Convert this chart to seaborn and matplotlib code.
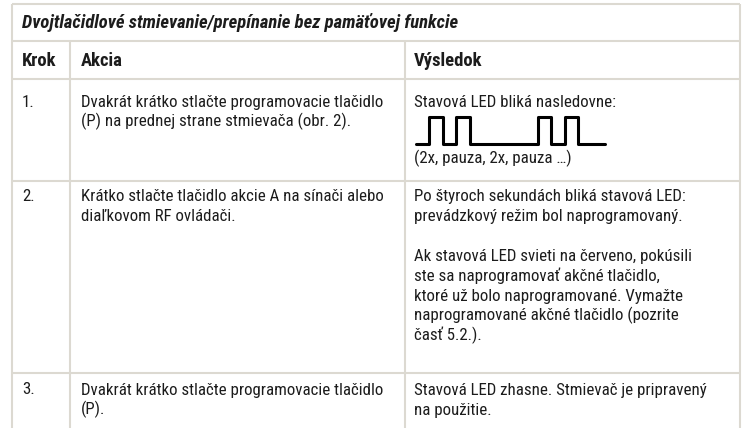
import matplotlib
matplotlib.use("Agg")
import matplotlib.pyplot as plt
import pandas as pd
import seaborn as sns

# -------------------- Table content -------------------- #
title = "Dvojtlačidlové stmievanie/prepínanie bez pamäťovej funkcie"
headers = ["Krok", "Akcia", "Výsledok"]

steps = ["1.", "2.", "3."]
actions = [
    ["Dvakrát krátko stlačte programovacie tlačidlo",
     "(P) na prednej strane stmievača (obr. 2)."],
    ["Krátko stlačte tlačidlo akcie A na sínači alebo",
     "diaľkovom RF ovládači."],
    ["Dvakrát krátko stlačte programovacie tlačidlo",
     "(P)."],
]
results = [
    ["Stavová LED bliká nasledovne:"],
    ["Po štyroch sekundách bliká stavová LED:",
     "prevádzkový režim bol naprogramovaný.",
     "",
     "Ak stavová LED svieti na červeno, pokúsili",
     "ste sa naprogramovať akčné tlačidlo,",
     "ktoré už bolo naprogramované. Vymažte",
     "naprogramované akčné tlačidlo (pozrite",
     "časť 5.2.)."],
    ["Stavová LED zhasne. Stmievač je pripravený",
     "na použitie."],
]
blink_caption = "(2x, pauza, 2x, pauza …)"

# LED blink pattern: level in each time slot (2x, pause, 2x)
blink_levels = [0, 1, 0, 1, 0, 0, 0, 0, 0, 1, 0, 1, 0, 0]

# -------------------- Layout (pixels) -------------------- #
W, H = 745, 428
left, right, top = 12, 740, 4
col_x = [12, 70, 405, 740]
row_y = [4, 41, 79, 181, 373, 428]
text_x = [22, 81, 414]
line_h = 20
first_line = [101, 195, 389]
line_color = "#dcd9d1"
text_color = "#1c1c1c"

sns.set_theme(style="white")
plt.rcParams["font.family"] = ["Roboto Condensed", "DejaVu Sans"]

fig = plt.figure(figsize=(W / 100, H / 100), dpi=100)
ax = fig.add_axes([0, 0, 1, 1])
ax.set_xlim(0, W)
ax.set_ylim(H, 0)
ax.axis("off")

lw = 1.5
# outer verticals
ax.vlines([left, right], top, H, color=line_color, lw=lw)
ax.hlines(top, left, right, color=line_color, lw=lw)
# row separators
ax.hlines(row_y[1:5], left, right, color=line_color, lw=lw)
# column separators (below title)
ax.vlines(col_x[1:3], row_y[1], H, color=line_color, lw=lw)

fs = 12.2
fs_bold = 13.4
base_off = 5.5

ax.text(text_x[0], 22 + base_off, title, fontsize=fs_bold, fontweight="bold",
        fontstyle="italic", color=text_color, va="baseline")
for x, h in zip(text_x, headers):
    ax.text(x, 60 + base_off, h, fontsize=fs_bold, fontweight="bold",
            color=text_color, va="baseline")

for i, (k, act, res) in enumerate(zip(steps, actions, results)):
    y0 = first_line[i] + base_off
    ax.text(text_x[0], y0, k, fontsize=fs, color=text_color, va="baseline")
    for j, line in enumerate(act):
        ax.text(text_x[1], y0 + j * line_h, line, fontsize=fs,
                color=text_color, va="baseline")
    for j, line in enumerate(res):
        ax.text(text_x[2], y0 + j * line_h, line, fontsize=fs,
                color=text_color, va="baseline")

ax.text(text_x[2], 158 + base_off, blink_caption, fontsize=fs,
        color=text_color, va="baseline")

# -------------------- LED blink waveform -------------------- #
wave = pd.DataFrame({
    "t": list(range(len(blink_levels) + 1)),
    "level": blink_levels + [blink_levels[-1]],
})
wx0, wx1, wy_low, wy_high = 416, 605, 144, 117
wax = fig.add_axes([wx0 / W, 1 - wy_low / H, (wx1 - wx0) / W, (wy_low - wy_high) / H])
sns.lineplot(data=wave, x="t", y="level", ax=wax, estimator=None, sort=False,
             drawstyle="steps-post", color="black", lw=2.2, clip_on=False)
wax.set_xlim(0, len(blink_levels))
wax.set_ylim(0, 1)
wax.axis("off")

fig.savefig("out.png", dpi=100, facecolor="white")
